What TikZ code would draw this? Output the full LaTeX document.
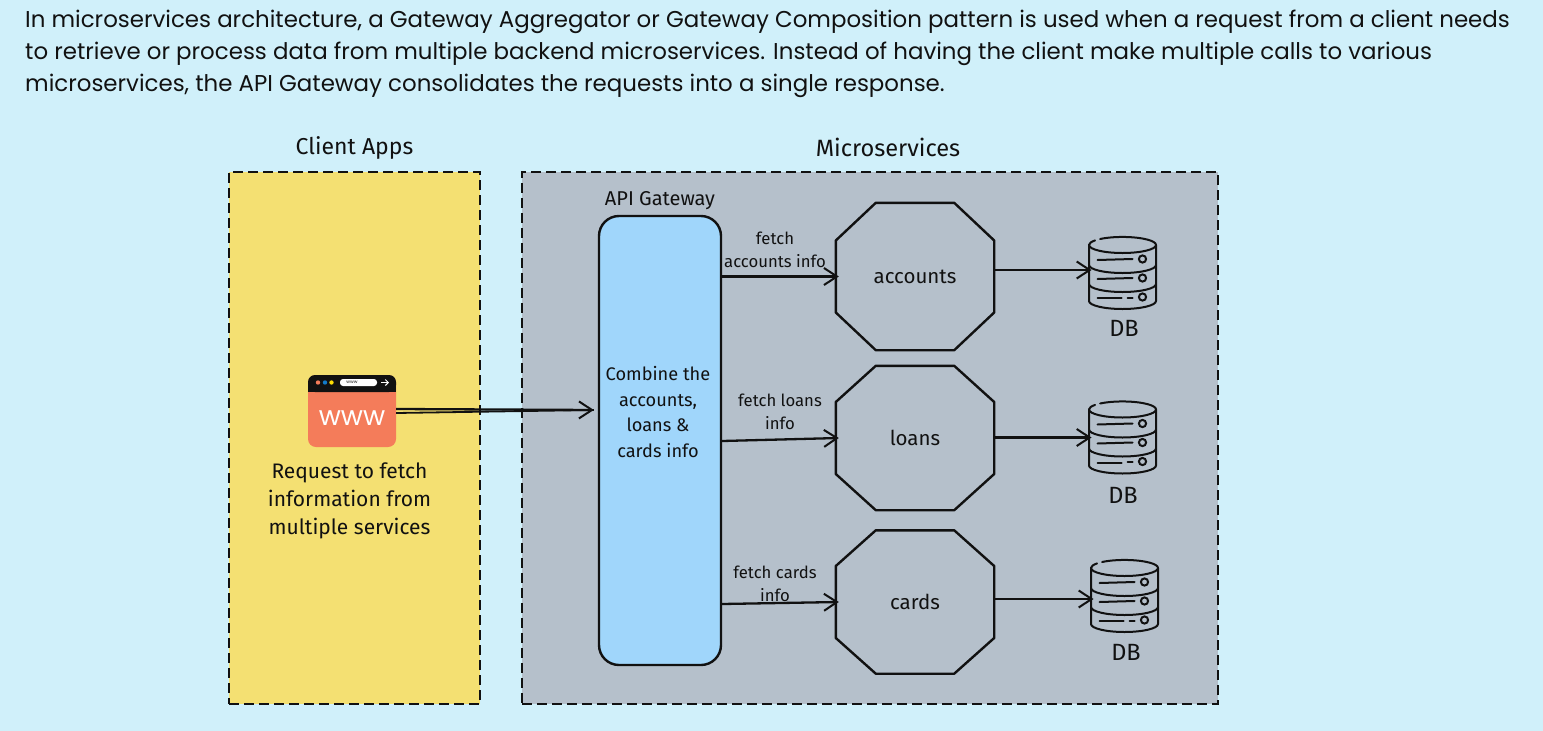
\documentclass[tikz,border=0pt]{standalone}
\usepackage{fontspec}
\setmainfont{Poppins}
\newfontfamily\handfont{Fira Sans}
\usetikzlibrary{arrows.meta,calc}
\definecolor{pagebg}{HTML}{D0F0FA}
\definecolor{clientbg}{HTML}{F4E072}
\definecolor{svcbg}{HTML}{B5C0CB}
\definecolor{gatebg}{HTML}{A0D6FB}
\definecolor{webred}{HTML}{F47C5A}
\definecolor{ink}{HTML}{111111}
\tikzset{
  x=1pt,y=-1pt,
  zone/.style={draw=ink,line width=2.4pt,dash pattern=on 10pt off 5pt},
  hand/.style={font=\handfont\fontsize{21}{28}\selectfont,text=ink,align=center,inner sep=0pt},
  small/.style={font=\handfont\fontsize{16.7}{23.5}\selectfont,text=ink,align=center,inner sep=0pt},
  flow/.style={draw=ink,line width=2.3pt,-{Straight Barb[length=13pt,width=17pt,line width=2pt]}},
  shapeline/.style={draw=ink,line width=2.4pt},
  intro/.style={font=\fontsize{22.9}{32}\selectfont,text=ink,align=left,anchor=north west,inner sep=0pt}
}
% octagon: name, cx, cy, half height, label
\newcommand{\octa}[5]{%
  \node[small,minimum width=158pt,minimum height=#4pt*2] (#1) at (#2,#3) {\fontsize{20.5}{24}\selectfont #5};
  \draw[shapeline,line join=round] ($(#1.west)+(0,-36)$) -- ($(#1.north west)+(40,0)$) -- ($(#1.north east)+(-40,0)$) -- ($(#1.east)+(0,-36)$) -- ($(#1.east)+(0,36)$) -- ($(#1.south east)+(-40,0)$) -- ($(#1.south west)+(40,0)$) -- ($(#1.west)+(0,36)$) -- cycle;
}
% database: name, cx, cy of centre, y offset of the arrow end
\newcommand{\dbicon}[4]{%
  \coordinate (#1) at (#2,#3);
  \coordinate (#1-in) at (#2-31,#3+#4);
  \begin{scope}[shift={(#2,#3)},line width=2pt,draw=ink,line cap=round]
    \draw (-33.5,-28) -- (-33.5,28) arc[x radius=33.5,y radius=8,start angle=180,end angle=0] -- (33.5,-28);
    \draw (-33.5,-28) arc[x radius=33.5,y radius=8,start angle=180,end angle=0];
    \draw (-33.5,-28) arc[x radius=33.5,y radius=8,start angle=180,end angle=215];
    \draw (-22.4,-34) arc[x radius=33.5,y radius=8,start angle=228,end angle=360];
    \draw (-33.5,-8) arc[x radius=33.5,y radius=8,start angle=180,end angle=0];
    \draw (-33.5,11) arc[x radius=33.5,y radius=8,start angle=180,end angle=0];
    \foreach \yy in {-13,6}{
      \draw (-25,\yy) -- (10,\yy-1);
      \draw (20,\yy-1) circle[radius=3.6];
    }
    \draw (-25,25) -- (-1,25);
    \draw (5,24.5) -- (10,24.5);
    \draw (20,24) circle[radius=3.6];
  \end{scope}
}
\begin{document}
\begin{tikzpicture}
\useasboundingbox (0,0) rectangle (1543,731);
\fill[pagebg] (0,0) rectangle (1543,731);

\node[intro] (introtext) at (25,9.5) {In microservices architecture, a Gateway Aggregator or Gateway Composition pattern is used when a request from a client needs\\to retrieve or process data from multiple backend microservices. Instead of having the client make multiple calls to various\\microservices, the API Gateway consolidates the requests into a single response.};

\node[zone,fill=clientbg,minimum width=251pt,minimum height=532pt,inner sep=0pt] (client) at (354.5,438) {};
\node[zone,fill=svcbg,minimum width=696pt,minimum height=532pt,inner sep=0pt] (micro) at (870,438) {};
\node[hand,font=\handfont\fontsize{23}{28}\selectfont] (clientlabel) at (354.5,148) {Client Apps};
\node[hand,font=\handfont\fontsize{23.6}{28}\selectfont] (microlabel) at (888,147) {Microservices};

% browser icon
\node[fill=webred,rounded corners=8pt,minimum width=88pt,minimum height=72pt,inner sep=0pt] (web) at (352,411) {};
\fill[ink,rounded corners=7pt] (308,375) -- (396,375) -- (396,392) -- (308,392) -- cycle;
\fill[ink] (308,384) rectangle (396,392);
\fill[webred] (318,382.5) circle[radius=2.2];
\fill[cyan!60!blue] (325,382.5) circle[radius=2.2];
\fill[yellow!80!orange] (331.5,382.5) circle[radius=2.2];
\fill[white,rounded corners=3pt] (340,379) rectangle (377,386);
\draw[white,line width=1pt,-{Straight Barb[length=3pt,width=6pt]}] (381,382.5) -- (389,382.5);
\node[font=\fontsize{4.5}{4.5}\selectfont,text=ink,inner sep=0pt] (weburl) at (352,382.5) {www};
\node[font=\fontsize{27}{27}\selectfont,text=white,inner sep=0pt] (webtext) at (352,418) {www};
\node[hand] (reqtext) at (349.5,500.5) {Request to fetch\\information from\\multiple services};

% gateway
\node[hand,font=\handfont\fontsize{20}{24}\selectfont] (gwlabel) at (660,201) {API Gateway};
\node[shapeline,fill=gatebg,rounded corners=20pt,minimum width=122pt,minimum height=449pt,inner sep=0pt] (gw) at (660,440.5) {};
\node[small,font=\handfont\fontsize{18.2}{25.5}\selectfont] (gwtext) at (658,412) {Combine the\\accounts,\\loans \&\\cards info};

\octa{accounts}{915}{276.5}{73.5}{accounts}
\octa{loans}{915}{438}{72}{loans}
\octa{cards}{915}{602}{71.5}{cards}

\dbicon{db1}{1122.5}{273}{-3}
\dbicon{db2}{1122.5}{437.5}{0}
\dbicon{db3}{1124.5}{596}{3}
\node[hand,font=\handfont\fontsize{23.5}{28}\selectfont] (db1l) at (1124,328) {DB};
\node[hand,font=\handfont\fontsize{23.5}{28}\selectfont] (db2l) at (1123,495) {DB};
\node[hand,font=\handfont\fontsize{23.5}{28}\selectfont] (db3l) at (1126,652) {DB};

% connectors
\coordinate (webout) at ($(web.east)+(0,-2)$);
\coordinate (webout2) at ($(web.east)+(0,2)$);
\coordinate (gwin) at ($(gw.west |- web.east)+(-4,-1)$);
\draw[flow] (webout) -- (gwin);
\draw[shapeline,line width=1.8pt] (webout2) -- (gwin);
\draw[flow] (gw.east |- accounts.west) -- ($(accounts.west)+(3,0)$);
\draw[flow] ($(gw.east |- loans.west)+(0,3)$) -- ($(loans.west)+(3,0)$);
\draw[flow] ($(gw.east |- cards.west)+(0,2)$) -- ($(cards.west)+(3,0)$);
\draw[flow] (accounts.east |- db1-in) -- (db1-in);
\draw[flow] (loans.east |- db2-in) -- (db2-in);
\draw[flow] (cards.east |- db3-in) -- (db3-in);

\node[small] (l1) at (775,250) {fetch\\accounts info};
\node[small] (l2) at (780,412) {fetch loans\\info};
\node[small] (l3) at (775,584) {fetch cards\\info};
\end{tikzpicture}
\end{document}
